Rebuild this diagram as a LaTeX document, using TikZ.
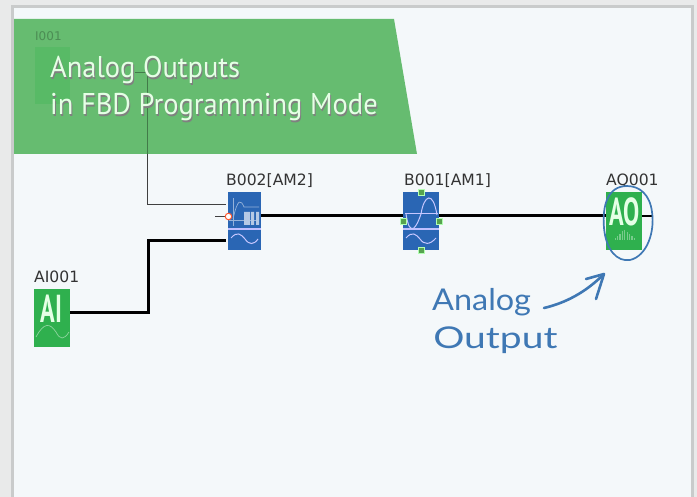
\documentclass[tikz,border=0pt]{standalone}
\usepackage{fontspec}
\setmainfont{DejaVu Sans}
\newfontfamily\headfont{PT Sans}
\newfontfamily\handfont{Lato}
\definecolor{outerbg}{HTML}{E9EAEA}
\definecolor{panelbg}{HTML}{F4F8FA}
\definecolor{panelln}{HTML}{C9CBCB}
\definecolor{banner}{HTML}{66BC70}
\definecolor{bannerd}{HTML}{58BA66}
\definecolor{fbdblue}{HTML}{2A66B4}
\definecolor{fbdgreen}{HTML}{2FB04E}
\definecolor{hand}{HTML}{3F78B4}
\definecolor{hnd}{HTML}{57A34F}
\tikzset{
 x=1pt,y=-1pt,
 wire/.style={black,line width=3pt},
 thinw/.style={black!75,line width=1pt},
 lbl/.style={font=\fontsize{15.6}{16}\selectfont,text=black!80,inner sep=0pt,anchor=base west},
 blockpart/.style={fill=fbdblue,draw=none,inner sep=0pt,anchor=north west},
 ioblock/.style={fill=fbdgreen,draw=none,inner sep=0pt,anchor=north west},
 iotxt/.style={font=\headfont\fontsize{39}{39}\selectfont\bfseries,text=white!90!green,inner sep=0pt,xscale=.62},
 handle/.style={fill=hnd,draw=white!70!green,line width=.4pt,minimum size=6pt,inner sep=0pt},
 curve/.style={white!78!blue,line width=1pt},
 handtxt/.style={font=\handfont\fontsize{30}{30}\selectfont,text=hand,inner sep=0pt,anchor=base west},
 handln/.style={hand,line width=2.6pt,line cap=round,line join=round},
 headtxt/.style={font=\headfont\fontsize{30}{30}\selectfont,inner sep=0pt,anchor=base west,xscale=.95}
}
\begin{document}
\begin{tikzpicture}
\useasboundingbox (0,0) rectangle (697,497);
\fill[outerbg] (0,0) rectangle (697,497);
\fill[panelbg,draw=panelln,line width=2.8pt] (12.7,6.5) rectangle (692.8,510);
% banner
\fill[banner] (14,19) -- (394,19) -- (417,154) -- (14,154) -- cycle;
\fill[bannerd] (35,47) rectangle (70,104);
\node[font=\fontsize{12}{12}\selectfont,text=black!25!banner,inner sep=0pt,anchor=west] (ighost) at (35,36) {I001};
% connectors
\coordinate (t00) at (135,72);
\coordinate (t0) at (147,72);
\coordinate (tb) at (147,154);
\coordinate (t1) at (147,205);
\coordinate (t2) at (226,205);
\coordinate (stub) at (215,216.5);
\node[blockpart,minimum width=33pt,minimum height=58pt] (b2) at (228,192) {};
\node[blockpart,minimum width=36pt,minimum height=58pt] (b1) at (403,192) {};
\node[ioblock,minimum width=36pt,minimum height=58pt] (ao) at (606,192) {};
\node[ioblock,minimum width=36pt,minimum height=58pt] (ai) at (34,289) {};
\draw[black!35!banner,line width=.9pt] (t00) -- (t0) -- (tb);
\draw[thinw] (tb) -- (t1) -- (t2);
\draw[thinw,line width=1.2pt] (stub) -- (226,216.5);
\coordinate (e1) at (226,240.5);
\coordinate (e2) at (70,313);
\draw[wire,line join=miter] (e2) -- (148,313) -- (148,240.5) -- (e1);
\draw[wire] (b2.east |- 0,216) -- (b1.west |- 0,216);
\draw[wire] (b1.east |- 0,216) -- (ao.west |- 0,216);
\draw[wire,line width=2.2pt] (ao.east |- 0,216) -- (652,216);
% separators
\draw[white!75!blue,line width=1.2pt] (228,229) -- (261,229);
\draw[white!75!blue,line width=1.2pt] (403,229) -- (439,229);
% B002 symbols
\draw[white!50!fbdblue,line width=.7pt] (233,198) -- (233,226) (229,220) -- (259,220);
\draw[white!50!fbdblue,line width=.7pt] (233,219) .. controls (238,197) and (241,200) .. (244,207) -- (259,207);
\fill[white!65!fbdblue] (244,212) rectangle (250,225) (251,212) rectangle (254,225) (256,212) rectangle (259,225);
\draw[curve] (231,238) .. controls (237,231) and (241,234) .. (245,239) .. controls (249,245) and (254,245) .. (258,239);
% B001 symbols
\draw[curve] (406,214) .. controls (410,240) and (417,226) .. (421,214) .. controls (424,195) and (433,190) .. (437,215);
\draw[curve] (405,214) -- (438,214);
\draw[curve] (406,238) .. controls (412,231) and (416,234) .. (420,239) .. controls (424,245) and (430,245) .. (436,238);
\node[handle] (h1) at (421,192) {};
\node[handle] (h2) at (421,250) {};
\node[handle] (h3) at (403,221) {};
\node[handle] (h4) at (439,221) {};
% pin
\node[circle,fill=white,draw=red!60!orange!80!white,line width=1pt,minimum size=6.5pt,inner sep=0pt] (pin) at (228.5,216.5) {};
% AO / AI faces
\node[iotxt,anchor=base] (aotext) at (624.5,225.5) {AO};
\foreach \i/\h in {0/2,1/4,2/6,3/9,4/10,5/8,6/6,7/4,8/2}
  \fill[white!35!fbdgreen] (614.5+2.4*\i,240) rectangle ++(1.2,-\h);
\node[iotxt,anchor=base] (aitext) at (51.5,323) {AI};
\draw[white!45!fbdgreen,line width=.7pt] (36,337) .. controls (44,322) and (50,323) .. (56,332) .. controls (60,340) and (64,340) .. (69,332);
% labels
\node[lbl] (lb2) at (226,186) {B002[AM2]};
\node[lbl] (lb1) at (404,186) {B001[AM1]};
\node[lbl] (lao) at (606,186) {AQ001};
\node[lbl] (lai) at (34,283) {AI001};
% hand annotation
\draw[hand,line width=1.7pt] (627,186) .. controls (608,186) and (602,205) .. (604,228) .. controls (606,250) and (617,262) .. (630,260) .. controls (647,256) and (655,232) .. (652,212) .. controls (650,195) and (640,186) .. (627,186);
\draw[handln] (544,308) .. controls (565,303) and (585,293) .. (604,274);
\draw[handln] (586,279) -- (604,274) -- (596,299);
\node[handtxt,xscale=1.08] (an) at (432,311) {Analog};
\node[handtxt,xscale=1.3] (out) at (433,349) {Output};
% banner title on top
\node[headtxt,text=black!50] (ts1) at (51,79.2) {Analog Outputs};
\node[headtxt,text=black!50] (ts2) at (51,116.2) {in FBD Programming Mode};
\node[headtxt,text=white!90!green] (tt1) at (50,78) {Analog Outputs};
\node[headtxt,text=white!90!green] (tt2) at (50,115) {in FBD Programming Mode};
\end{tikzpicture}
\end{document}
